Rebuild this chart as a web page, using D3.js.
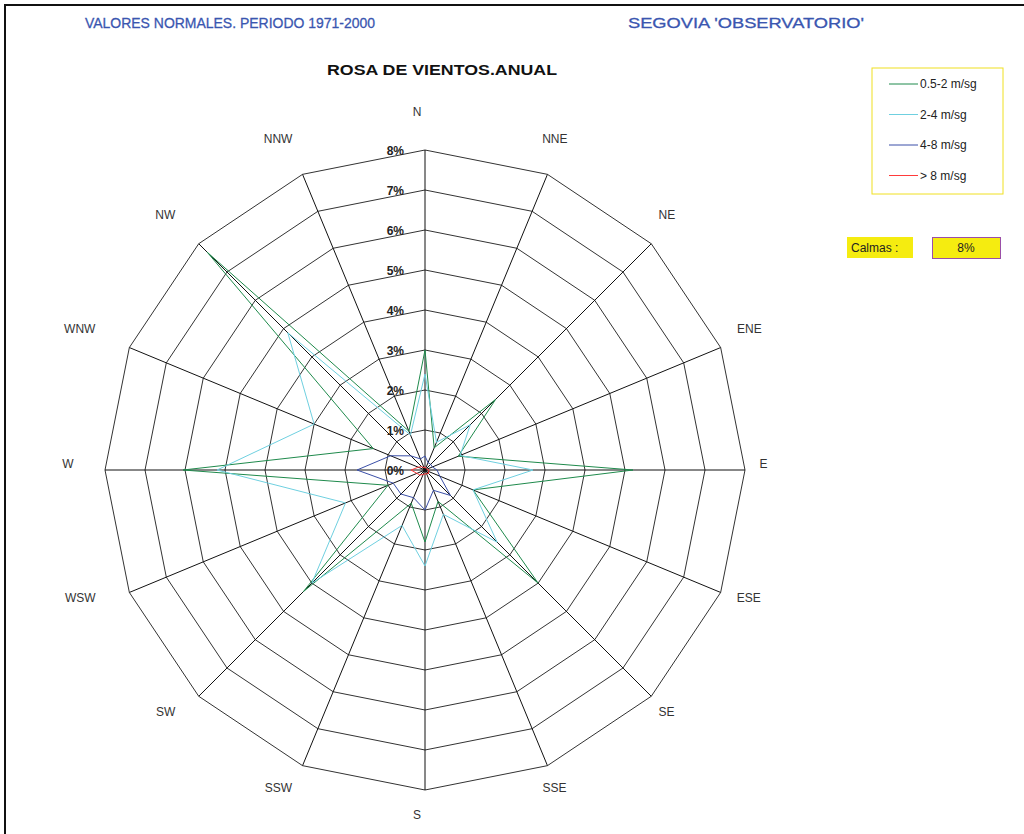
<!DOCTYPE html>
<html>
<head>
<meta charset="utf-8">
<script src="https://cdn.jsdelivr.net/npm/d3@7"></script>
<style>
    body { margin: 0; background: #fff; }
    svg { display: block; font-family: "Liberation Sans", Arial, sans-serif; }
    .ring { fill: none; stroke: #333; stroke-width: 1; }
    .spoke { stroke: #111; stroke-width: 1; }
    .dir-label { font-size: 12px; fill: #333; }
    .pct-label { font-size: 12px; font-weight: bold; fill: #222; }
    .series { fill: none; stroke-width: 1; }
</style>
</head>
<body>
<svg id="chart"></svg>
<script>
// Wind directions (clockwise from north)
const directions = ['N', 'NNE', 'NE', 'ENE', 'E', 'ESE', 'SE', 'SSE', 'S', 'SSW', 'SW', 'WSW', 'W', 'WNW', 'NW', 'NNW'];

// Frequency (%) per direction, one array per speed class
const speed05to2 = [3.0, 0.6, 2.5, 0.9, 5.2, 1.3, 4.0, 0.85, 1.8, 0.9, 4.3, 1.0, 6.05, 1.4, 7.7, 1.05];
const speed2to4 = [2.4, 0.75, 1.6, 0.95, 2.7, 1.3, 2.55, 1.2, 2.4, 1.5, 4.0, 2.15, 5.2, 3.0, 4.85, 0.95];
const speed4to8 = [0.35, 0.2, 0.2, 0.2, 0.3, 0.4, 0.9, 0.55, 1.0, 0.75, 0.85, 0.86, 1.7, 0.93, 0.5, 0.3];
const speedOver8 = [0.08, 0.05, 0.05, 0.05, 0.1, 0.1, 0.12, 0.1, 0.1, 0.12, 0.18, 0.22, 0.35, 0.18, 0.12, 0.06];

const seriesNames = ['0.5-2 m/sg', '2-4 m/sg', '4-8 m/sg', '> 8 m/sg'];
const seriesColors = ['#1f8a4c', '#6fd0e0', '#3a4fa8', '#ff3b3b'];
const ringTicks = [0, 1, 2, 3, 4, 5, 6, 7, 8];
const calmas = '8%';

const width = 1024, height = 834;
const cx = 425, cy = 470;

const svg = d3.select('#chart').attr('width', width).attr('height', height);

// Frame
svg.append('path')
    .attr('d', `M5,${height}V5H${width}`)
    .attr('fill', 'none')
    .attr('stroke', '#111')
    .attr('stroke-width', 2);

// Titles
svg.append('text').attr('x', 85).attr('y', 28)
    .attr('font-size', '15px').attr('fill', '#3a56b0')
    .attr('stroke', '#3a56b0').attr('stroke-width', 0.3)
    .attr('textLength', 290).attr('lengthAdjust', 'spacingAndGlyphs')
    .text('VALORES NORMALES. PERIODO 1971-2000');
svg.append('text').attr('x', 628).attr('y', 28)
    .attr('font-size', '15px').attr('fill', '#3a56b0')
    .attr('stroke', '#3a56b0').attr('stroke-width', 0.3)
    .attr('textLength', 236).attr('lengthAdjust', 'spacingAndGlyphs')
    .text("SEGOVIA 'OBSERVATORIO'");
svg.append('text').attr('x', 442).attr('y', 75)
    .attr('font-size', '14px').attr('font-weight', 'bold').attr('fill', '#111')
    .attr('text-anchor', 'middle')
    .attr('textLength', 230).attr('lengthAdjust', 'spacingAndGlyphs')
    .text('ROSA DE VIENTOS.ANUAL');

const r = d3.scaleLinear().domain([0, 8]).range([0, 320]);
const angle = d3.scaleLinear().domain([0, directions.length]).range([0, 2 * Math.PI]);

const g = svg.append('g').attr('transform', `translate(${cx},${cy})`);

// Polygon rings
const ringLine = d3.lineRadial()
    .angle((d, i) => angle(i))
    .radius(d => r(d))
    .curve(d3.curveLinearClosed);

g.selectAll('.ring')
    .data(ringTicks.slice(1))
    .enter()
    .append('path')
    .attr('class', 'ring')
    .attr('d', t => ringLine(directions.map(() => t)));

// Spokes
g.selectAll('.spoke')
    .data(directions)
    .enter()
    .append('line')
    .attr('class', 'spoke')
    .attr('x1', 0).attr('y1', 0)
    .attr('x2', (d, i) => r(8) * Math.sin(angle(i)))
    .attr('y2', (d, i) => -r(8) * Math.cos(angle(i)));

// Direction labels: pushed outward by their own width so the box clears the ring
g.selectAll('.dir-label')
    .data(directions)
    .enter()
    .append('text')
    .attr('class', 'dir-label')
    .attr('text-anchor', 'middle')
    .attr('dy', '0.35em')
    .text(d => d)
    .each(function(d, i) {
        const w = this.getComputedTextLength();
        const s = Math.sin(angle(i)), c = Math.cos(angle(i));
        d3.select(this)
            .attr('x', -8 + 340 * s + 0.8 * w * s)
            .attr('y', -6.5 - 351.5 * c);
    });

// Series
const series = [speed05to2, speed2to4, speed4to8, speedOver8];
g.selectAll('.series')
    .data(series)
    .enter()
    .append('path')
    .attr('class', 'series')
    .attr('stroke', (d, i) => seriesColors[i])
    .attr('stroke-width', (d, i) => i === 3 ? 1.6 : 1)
    .attr('d', d => ringLine(d));

// Percentage labels
g.selectAll('.pct-label')
    .data(ringTicks)
    .enter()
    .append('text')
    .attr('class', 'pct-label')
    .attr('text-anchor', 'end')
    .attr('x', -21)
    .attr('y', t => -r(t) + 5)
    .text(t => t + '%');

// Legend
const legend = svg.append('g').attr('transform', 'translate(872,68)');
legend.append('rect')
    .attr('width', 131).attr('height', 126)
    .attr('fill', '#fff').attr('stroke', '#f0e020').attr('stroke-width', 1);
const items = legend.selectAll('.legend-item')
    .data(seriesNames)
    .enter()
    .append('g')
    .attr('transform', (d, i) => `translate(0,${16 + i * 30.5})`);
items.append('line')
    .attr('x1', 17).attr('x2', 46)
    .attr('stroke', (d, i) => seriesColors[i]);
items.append('text')
    .attr('x', 48).attr('dy', '0.35em')
    .attr('font-size', '12px').attr('fill', '#222')
    .text(d => d);

// Calmas
svg.append('rect').attr('x', 847).attr('y', 237).attr('width', 66).attr('height', 21).attr('fill', '#f5ec10');
svg.append('text').attr('x', 851).attr('y', 252).attr('font-size', '12px').attr('fill', '#222').text('Calmas :');
svg.append('rect').attr('x', 932.5).attr('y', 237.5).attr('width', 68).attr('height', 21)
    .attr('fill', '#f5ec10').attr('stroke', '#9a4fa8').attr('stroke-width', 1);
svg.append('text').attr('x', 966).attr('y', 252).attr('text-anchor', 'middle')
    .attr('font-size', '12px').attr('fill', '#222').text(calmas);
</script>
</body>
</html>
